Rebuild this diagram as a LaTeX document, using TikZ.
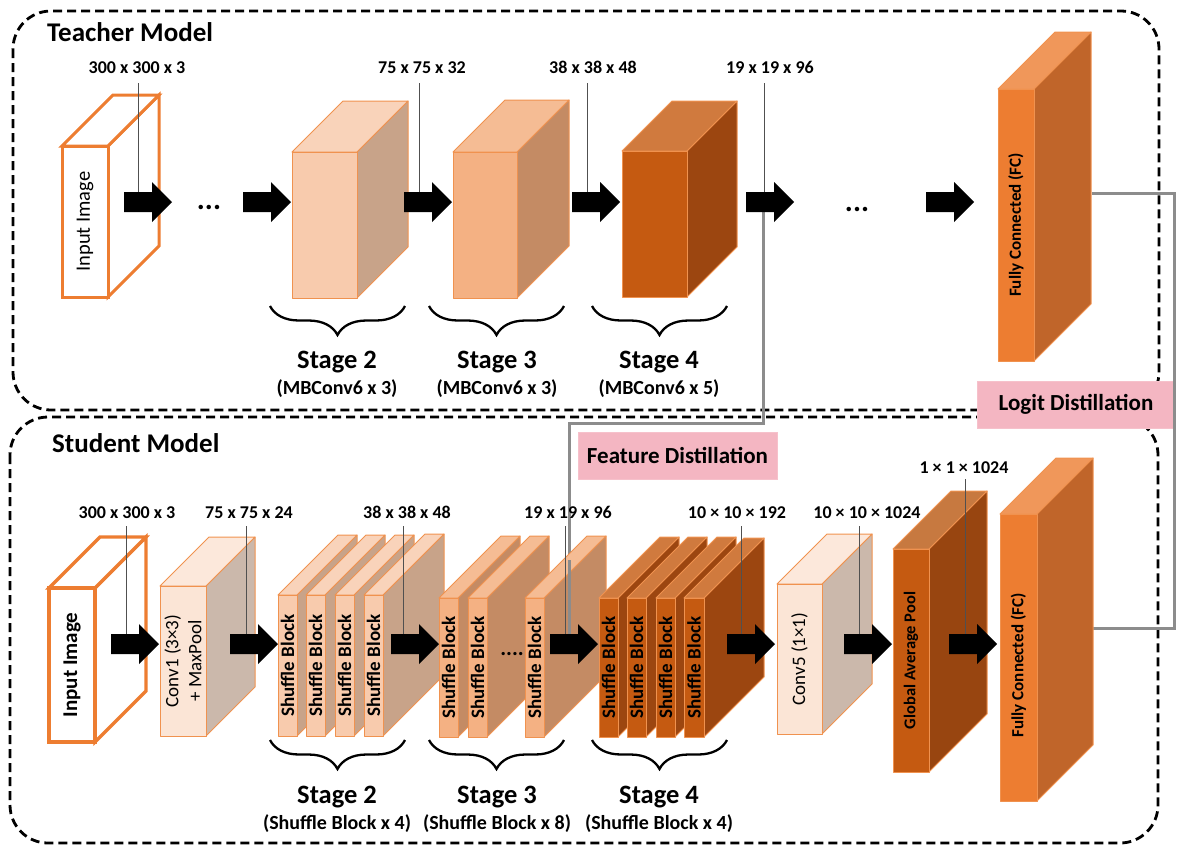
\documentclass[tikz,border=0pt]{standalone}
\usepackage{fontspec}
\setmainfont{Carlito}
\usetikzlibrary{decorations.pathreplacing}
\definecolor{orangeE}{HTML}{ED7D31}
\definecolor{edgeor}{HTML}{F0924F}
\definecolor{stAfront}{HTML}{F8CBAD}
\definecolor{stAside}{HTML}{C8A389}
\definecolor{stAtop}{HTML}{F9D3BA}
\definecolor{stBfront}{HTML}{F4B183}
\definecolor{stBside}{HTML}{C48B64}
\definecolor{stBtop}{HTML}{F5BC94}
\definecolor{stCfront}{HTML}{C55A11}
\definecolor{stCside}{HTML}{9C4610}
\definecolor{stCtop}{HTML}{D07A3E}
\definecolor{fcfront}{HTML}{ED7D31}
\definecolor{fcside}{HTML}{C0652A}
\definecolor{fctop}{HTML}{F0975A}
\definecolor{convfront}{HTML}{FBE5D6}
\definecolor{convside}{HTML}{CBB8AB}
\definecolor{convtop}{HTML}{FCE8DB}
\definecolor{gapfront}{HTML}{C55A11}
\definecolor{gapside}{HTML}{984510}
\definecolor{gaptop}{HTML}{C77940}
\definecolor{pinkbg}{HTML}{F4B6C2}
\definecolor{distgray}{HTML}{8C8C8C}
\definecolor{tickgray}{HTML}{505050}
\newcommand\cuboid[9]{%
  \filldraw[cub,fill=#8] (#4,#3) -- ++(#6,-#6) -- ({#4+#6},{#5-#6}) -- (#4,#5) -- cycle;
  \filldraw[cub,fill=#9] (#2,#3) -- ++(#6,-#6) -- ({#4+#6},{#3-#6}) -- (#4,#3) -- cycle;
  \node[cub,fill=#7,minimum width={#4-#2},minimum height={#5-#3},anchor=north west,inner sep=0pt,outer sep=0pt] (#1) at (#2,#3) {};%
}
\newcommand\barrow[2]{%
  \fill[black] (#1,{#2-10}) -- ({#1+28},{#2-10}) -- ({#1+28},{#2-20}) -- ({#1+48},#2) -- ({#1+28},{#2+20}) -- ({#1+28},{#2+10}) -- (#1,{#2+10}) -- cycle;%
}
\tikzset{
  cub/.style={draw=edgeor,line width=1pt,line join=round},
  dashbox/.style={draw=black,line width=2.8pt,dash pattern=on 9pt off 5pt,rounded corners=38pt},
  dimlbl/.style={font=\bfseries\fontsize{18}{18}\selectfont,anchor=base,inner sep=0pt},
  ticklne/.style={draw=tickgray,line width=1pt},
  distlne/.style={draw=distgray,line width=3pt},
  pinkbox/.style={fill=pinkbg,draw=pinkbg!85!white,line width=0.8pt,font=\bfseries\fontsize{23}{24}\selectfont,minimum height=47pt,inner sep=0pt},
  brc/.style={draw=black,line width=2.3pt,decorate,decoration={brace,mirror,amplitude=29pt}},
  stagelbl/.style={font=\bfseries\fontsize{26.5}{27}\selectfont,anchor=base,inner sep=0pt},
  substage/.style={font=\bfseries\fontsize{20}{20}\selectfont,anchor=base,inner sep=0pt},
  title/.style={font=\bfseries\fontsize{27}{28}\selectfont,anchor=base west,inner sep=0pt},
  rotb/.style={rotate=90,font=\bfseries\fontsize{19}{19}\selectfont,inner sep=0pt},
  rotr/.style={rotate=90,font=\fontsize{19}{23}\selectfont,inner sep=0pt,align=center},
  dots/.style={font=\bfseries\fontsize{30}{30}\selectfont,anchor=base,inner sep=0pt}
}
\begin{document}
\begin{tikzpicture}[x=1pt,y=-1pt]
\useasboundingbox (0,0) rectangle (1185,855);
% model frames
\draw[dashbox] (13,11) rectangle (1159,410);
\draw[dashbox] (10,417) rectangle (1158,843);
\node[title] (ttitle) at (47,41) {Teacher Model};
\node[title] (stitle) at (52,452) {Student Model};
% pink labels
\node[pinkbox,minimum width=198pt] (logit) at (1076,404.5) {Logit Distillation};
\node[pinkbox,minimum width=199pt] (feat) at (677.5,455.5) {Feature Distillation};

% ================= TEACHER =================
\begin{scope}[cub/.style={draw=orangeE,line width=3pt,line join=miter}]
\cuboid{tin}{62}{146}{108}{297}{51}{white}{white}{white}
\end{scope}
\node[rotate=90,font=\fontsize{20.5}{20}\selectfont,inner sep=0pt] (tintxt) at (tin.center) {Input Image};
\cuboid{tst2}{292}{152}{357}{298}{51}{stAfront}{stAside}{stAtop}
\cuboid{tst3}{453}{152}{517}{298}{52}{stBfront}{stBside}{stBtop}
\cuboid{tst4}{622}{151}{687}{297}{50}{stCfront}{stCside}{stCtop}
\cuboid{tfc}{998}{89}{1034}{361}{57}{fcfront}{fcside}{fctop}
\node[rotb,font=\bfseries\fontsize{17}{18}\selectfont] (tfctxt) at (tfc.center) {Fully Connected (FC)};

% dimension labels
\node[dimlbl] (td1) at (137,73) {300 x 300 x 3};
\node[dimlbl] (td2) at (422,73) {75 x 75 x 32};
\node[dimlbl] (td3) at (593,73) {38 x 38 x 48};
\node[dimlbl] (td4) at (770,73) {19 x 19 x 96};
\draw[ticklne] (138,83) -- (138,202);
\draw[ticklne] (419,83) -- (419,202);
\draw[ticklne] (587,83) -- (587,202);
\draw[ticklne] (764,83) -- (764,212);

% distillation connectors
\coordinate (fdA) at (763,212);
\coordinate (fdB) at (569,640);
\draw[distlne] (fdA) -- (763,423) -| (fdB);
\coordinate (ldA) at (1092,193);
\coordinate (ldB) at (1093,628);
\draw[distlne] (ldA) -| (1174,628) -- (ldB);

% arrows teacher
\barrow{124}{202}
\barrow{243}{202}
\barrow{404}{202}
\barrow{572}{202}
\barrow{746}{202}
\barrow{926}{202}
\node[dots] (tdots1) at (209,209) {...};
\node[dots] (tdots2) at (857,211) {...};

% braces teacher
\draw[brc] (270,306) -- (405,306);
\draw[brc] (429,306) -- (564,306);
\draw[brc] (592,306) -- (727,306);
\node[stagelbl] (ts2) at (337,368) {Stage 2};
\node[substage] (ts2b) at (337,394) {(MBConv6 x 3)};
\node[stagelbl] (ts3) at (497,368) {Stage 3};
\node[substage] (ts3b) at (497,394) {(MBConv6 x 3)};
\node[stagelbl] (ts4) at (659,368) {Stage 4};
\node[substage] (ts4b) at (659,394) {(MBConv6 x 5)};

% ================= STUDENT =================
\begin{scope}[cub/.style={draw=orangeE,line width=3.3pt,line join=miter}]
\cuboid{sin}{49}{588}{95}{742}{51}{white}{white}{white}
\end{scope}
\node[rotate=90,font=\bfseries\fontsize{21}{21}\selectfont,inner sep=0pt] (sintxt) at (sin.center) {Input Image};
\cuboid{sc1}{160}{586}{206}{736}{49}{convfront}{convside}{convtop}
\node[rotr] (sc1txt) at (sc1.center) {Conv1 (3×3)\\+ MaxPool};
% stage 2 slabs
\cuboid{sa1}{278}{595}{297}{736}{60}{stAfront}{stAside}{stAtop}
\cuboid{sa2}{306}{595}{325}{736}{60}{stAfront}{stAside}{stAtop}
\cuboid{sa3}{335}{595}{354}{736}{60}{stAfront}{stAside}{stAtop}
\cuboid{sa4}{364}{595}{383}{736}{61}{stAfront}{stAside}{stAtop}
\foreach \n in {sa1,sa2,sa3,sa4} {\node[rotb] (\n t) at (\n.center) {Shuffle Block};}
% stage 3 slabs
\cuboid{sb1}{439}{598}{458}{737}{62}{stBfront}{stBside}{stBtop}
\cuboid{sb2}{468}{598}{487}{737}{62}{stBfront}{stBside}{stBtop}
\cuboid{sb3}{525}{598}{544}{737}{62}{stBfront}{stBside}{stBtop}
\foreach \n in {sb1,sb2,sb3} {\node[rotb] (\n t) at (\n.center) {Shuffle Block};}
\node[dots,font=\bfseries\fontsize{22}{22}\selectfont] (sdots) at (512,655) {....};
% stage 4 slabs
\cuboid{sc41}{599}{598}{618}{737}{61}{stCfront}{stCside}{stCtop}
\cuboid{sc42}{627}{598}{646}{737}{61}{stCfront}{stCside}{stCtop}
\cuboid{sc43}{656}{598}{675}{737}{61}{stCfront}{stCside}{stCtop}
\cuboid{sc44}{684}{598}{704}{737}{60}{stCfront}{stCside}{stCtop}
\foreach \n in {sc41,sc42,sc43,sc44} {\node[rotb] (\n t) at (\n.center) {Shuffle Block};}
\cuboid{sc5}{777}{584}{822}{734}{50}{convfront}{convside}{convtop}
\node[rotr] (sc5txt) at (sc5.center) {Conv5 (1×1)};
\cuboid{sgap}{893}{549}{929}{772}{58}{gapfront}{gapside}{gaptop}
\node[rotb,font=\bfseries\fontsize{16.5}{18}\selectfont] (sgaptxt) at (sgap.center) {Global Average Pool};
\cuboid{sfc}{1000}{514}{1037}{801}{56}{fcfront}{fcside}{fctop}
\node[rotb,font=\bfseries\fontsize{17}{18}\selectfont] (sfctxt) at ([yshift=-8pt]sfc.center) {Fully Connected (FC)};

% dimension labels student
\node[dimlbl] (sd1) at (127,518) {300 x 300 x 3};
\node[dimlbl] (sd2) at (249,518) {75 x 75 x 24};
\node[dimlbl] (sd3) at (407,518) {38 x 38 x 48};
\node[dimlbl] (sd4) at (568,518) {19 x 19 x 96};
\node[dimlbl] (sd5) at (737,518) {10 × 10 × 192};
\node[dimlbl] (sd6) at (867,518) {10 × 10 × 1024};
\node[dimlbl] (sd7) at (964,473) {1 × 1 × 1024};
\draw[ticklne] (126,526) -- (126,640);
\draw[ticklne] (246,526) -- (246,640);
\draw[ticklne] (403,526) -- (403,640);
\draw[ticklne] (565,526) -- (565,640);
\draw[ticklne] (741,526) -- (741,640);
\draw[ticklne] (859,526) -- (859,640);
\draw[ticklne] (965,479) -- (965,640);
\draw[distlne] (569,560) -- (fdB);

% arrows student
\barrow{111}{644}
\barrow{230}{644}
\barrow{391}{644}
\barrow{550}{644}
\barrow{727}{644}
\barrow{844}{644}
\barrow{949}{644}

% braces student
\draw[brc] (270,740) -- (405,740);
\draw[brc] (429,740) -- (564,740);
\draw[brc] (592,740) -- (727,740);
\node[stagelbl] (ss2) at (337,803) {Stage 2};
\node[substage] (ss2b) at (337,829) {(Shuffle Block x 4)};
\node[stagelbl] (ss3) at (497,803) {Stage 3};
\node[substage] (ss3b) at (497,829) {(Shuffle Block x 8)};
\node[stagelbl] (ss4) at (659,803) {Stage 4};
\node[substage] (ss4b) at (659,829) {(Shuffle Block x 4)};
\end{tikzpicture}
\end{document}
